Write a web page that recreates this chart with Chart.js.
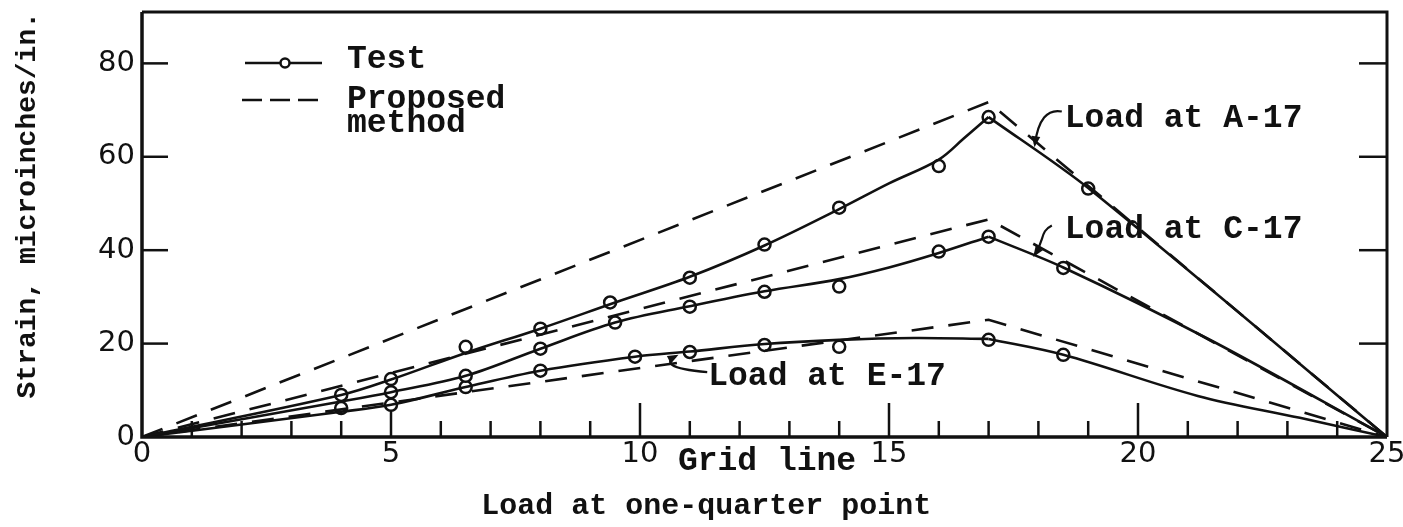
<!DOCTYPE html>
<html><head><meta charset="utf-8">
<style>html,body{margin:0;padding:0;background:#fff;overflow:hidden}#wrap{width:1403px;height:527px;position:relative}</style>
<script src="https://cdn.jsdelivr.net/npm/chart.js@4.4.1/dist/chart.umd.min.js"></script>
</head><body><div id="wrap"><canvas id="c" width="1403" height="527"></canvas></div>
<script>
// ---- data (x = grid line, y = strain, microinches/in.) ----
const xTickLabels = [0, 5, 10, 15, 20, 25];
const yTickLabels = [0, 20, 40, 60, 80];
const xMinorTicks = [1,2,3,4,5,6,7,8,9,10,11,12,13,14,15,16,17,18,19,20,21,22,23,24];

// test points (circles)
const testA = [[4,9.0],[5,12.4],[6.5,19.3],[8,23.2],[9.4,28.8],[11,34.1],[12.5,41.2],[14,49.1],[16,58.0],[17,68.5],[19,53.2]];
const testC = [[5,9.6],[6.5,13.1],[8,18.9],[9.5,24.5],[11,27.9],[12.5,31.1],[14,32.2],[16,39.7],[17,42.9],[18.5,36.2]];
const testE = [[4,6.2],[5,6.9],[6.5,10.7],[8,14.2],[9.9,17.2],[11,18.2],[12.5,19.7],[14,19.3],[17,20.8],[18.5,17.6]];

// faired test curves (solid)
const curveAUp   = [[0,0],[4,9.0],[5,12.3],[6.5,18.0],[8,23.2],[9.5,28.8],[11,34.3],[12.5,41.0],[14,48.8],[15,54.3],[16,59.4],[16.5,63.9],[17,68.5]];
const curveADown = [[17,68.5],[19,53.3],[25,0]];
const curveCUp   = [[0,0],[4,7.6],[5,9.6],[6.5,13.1],[8,18.9],[9.5,24.5],[11,28.0],[12.5,31.2],[14,33.8],[15,36.3],[16,39.4],[17,42.9]];
const curveCDown = [[17,42.9],[18.5,36.3],[21.5,20.5],[25,0]];
const curveEUp   = [[0,0],[4,5.4],[5,6.9],[6.5,10.7],[8,14.2],[9.9,17.2],[11,18.3],[12.5,19.9],[14,20.8],[15.5,21.2],[17,21.0]];
const curveEDown = [[17,21.0],[18.5,17.6],[21.2,8.8],[23.25,4.1],[25,0]];

// proposed method (dashed)
const propA = [[0,0],[17,71.7],[25,0]];
const propC = [[0,0],[17,46.6],[25,0]];
const propE = [[0,0],[17,25.1],[25,0]];

// annotation anchors (data units)
const labelA = {text: 'Load at A-17', at: [18.53, 66.3]};
const labelC = {text: 'Load at C-17', at: [18.53, 42.7]};
const labelE = {text: 'Load at E-17', at: [11.37, 11.2]};
const arrowA = [[18.47,69.7],[18.03,70.6],[17.93,62.7]];
const arrowC = [[18.27,45.3],[18.03,44.0],[18.13,42.3],[17.93,39.1]];
const arrowE = [[11.35,13.9],[10.54,14.6],[10.5,16.1],[10.72,17.3]];

const INK = '#111';
const MONO = '"Liberation Mono", "DejaVu Sans Mono", monospace';
const pts = a => a.map(p => ({x: p[0], y: p[1]}));

function solid(d, t) { return {data: pts(d), showLine: true, borderColor: INK, borderWidth: 2.6, pointRadius: 0, tension: t, fill: false}; }
function dashed(d) { return {data: pts(d), showLine: true, borderColor: INK, borderWidth: 2.6, borderDash: [22, 15], pointRadius: 0, tension: 0, fill: false}; }
function marks(d) { return {data: pts(d), showLine: false, pointRadius: 6, pointBorderWidth: 2.5, pointBorderColor: INK, pointBackgroundColor: '#fff', pointStyle: 'circle'}; }

const decor = {
  id: 'decor',
  beforeDatasetsDraw(chart) {
    const {ctx, chartArea: ca, scales: {x, y}} = chart;
    ctx.save();
    ctx.strokeStyle = INK; ctx.lineCap = 'butt';
    ctx.lineWidth = 2.5;
    xMinorTicks.forEach(v => {
      const px = x.getPixelForValue(v);
      const len = v % 5 === 0 ? 34 : 16;
      ctx.beginPath(); ctx.moveTo(px, ca.bottom); ctx.lineTo(px, ca.bottom - len); ctx.stroke();
    });
    yTickLabels.filter(v => v > 0).forEach(v => {
      const py = y.getPixelForValue(v);
      ctx.beginPath(); ctx.moveTo(ca.left, py); ctx.lineTo(ca.left + 26, py); ctx.stroke();
      ctx.beginPath(); ctx.moveTo(ca.right, py); ctx.lineTo(ca.right - 28, py); ctx.stroke();
    });
    ctx.restore();
  },
  afterDraw(chart) {
    const {ctx, chartArea: ca, scales: {x, y}} = chart;
    const P = p => [x.getPixelForValue(p[0]), y.getPixelForValue(p[1])];
    ctx.save();
    ctx.strokeStyle = INK; ctx.fillStyle = INK;
    // frame
    ctx.lineWidth = 3.5;
    ctx.beginPath(); ctx.moveTo(ca.left, ca.top); ctx.lineTo(ca.left, ca.bottom); ctx.lineTo(ca.right, ca.bottom); ctx.stroke();
    ctx.lineWidth = 3;
    ctx.beginPath(); ctx.moveTo(ca.left, ca.top); ctx.lineTo(ca.right, ca.top); ctx.lineTo(ca.right, ca.bottom); ctx.stroke();

    // legend
    ctx.lineWidth = 2.5;
    ctx.beginPath(); ctx.moveTo(245, 63); ctx.lineTo(322, 63); ctx.stroke();
    ctx.beginPath(); ctx.arc(285, 63, 4.5, 0, Math.PI * 2); ctx.fillStyle = '#fff'; ctx.fill(); ctx.stroke();
    ctx.fillStyle = INK;
    ctx.setLineDash([20, 8]);
    ctx.beginPath(); ctx.moveTo(242, 100); ctx.lineTo(322, 100); ctx.stroke();
    ctx.setLineDash([]);
    ctx.font = 'bold 33px ' + MONO;
    ctx.textAlign = 'left'; ctx.textBaseline = 'alphabetic';
    ctx.fillText('Test', 347, 68);
    ctx.fillText('Proposed', 347, 108);
    ctx.fillText('method', 347, 132);

    // curve labels
    [labelA, labelC, labelE].forEach(l => { const p = P(l.at); ctx.fillText(l.text, p[0], p[1]); });

    // arrows
    ctx.lineWidth = 2.2;
    function arrow(list) {
      const q = list.map(P);
      ctx.beginPath(); ctx.moveTo(q[0][0], q[0][1]);
      if (q.length === 3) ctx.quadraticCurveTo(q[1][0], q[1][1], q[2][0], q[2][1]);
      else ctx.bezierCurveTo(q[1][0], q[1][1], q[2][0], q[2][1], q[3][0], q[3][1]);
      ctx.stroke();
      const e = q[q.length - 1], b = q[q.length - 2];
      const ang = Math.atan2(e[1] - b[1], e[0] - b[0]);
      ctx.beginPath();
      ctx.moveTo(e[0] + 3 * Math.cos(ang), e[1] + 3 * Math.sin(ang));
      ctx.lineTo(e[0] - 9 * Math.cos(ang - 0.5), e[1] - 9 * Math.sin(ang - 0.5));
      ctx.lineTo(e[0] - 9 * Math.cos(ang + 0.5), e[1] - 9 * Math.sin(ang + 0.5));
      ctx.closePath(); ctx.fill();
    }
    arrow(arrowA); arrow(arrowC); arrow(arrowE);

    // axis captions
    ctx.font = 'bold 33px ' + MONO;
    ctx.textAlign = 'center'; ctx.textBaseline = 'middle';
    ctx.fillText('Grid line', x.getPixelForValue(12.55), ca.bottom + 25);
    ctx.font = 'bold 30px ' + MONO;
    ctx.fillText('Load at one-quarter point', x.getPixelForValue(11.33), ca.bottom + 69);
    ctx.restore();
  }
};

new Chart(document.getElementById('c'), {
  type: 'scatter',
  data: {
    datasets: [
      solid(curveAUp, 0.35), solid(curveADown, 0.3),
      solid(curveCUp, 0.35), solid(curveCDown, 0.3),
      solid(curveEUp, 0.35), solid(curveEDown, 0.35),
      dashed(propA), dashed(propC), dashed(propE),
      marks(testA), marks(testC), marks(testE)
    ]
  },
  options: {
    responsive: false, animation: false, devicePixelRatio: 1,
    layout: {padding: {top: 12, right: 16, left: 0, bottom: 0}},
    plugins: {legend: {display: false}, tooltip: {enabled: false}},
    scales: {
      x: {
        type: 'linear', min: 0, max: 25,
        afterFit: s => { s.height = 90; s.paddingLeft = 0; s.paddingRight = 0; },
        grid: {display: false, drawTicks: false}, border: {display: false},
        ticks: {
          stepSize: 5, autoSkip: false, padding: 3, color: INK,
          font: {family: '"DejaVu Sans", sans-serif', size: 29, lineHeight: 1},
          callback: v => xTickLabels.includes(v) ? String(v) : ''
        }
      },
      y: {
        type: 'linear', min: 0, max: 91,
        afterFit: s => { s.width = 142; s.paddingTop = 0; s.paddingBottom = 0; },
        grid: {display: false, drawTicks: false}, border: {display: false},
        ticks: {
          stepSize: 20, padding: 7, color: INK,
          font: {family: '"DejaVu Sans", sans-serif', size: 29},
          callback: v => yTickLabels.includes(v) ? String(v) : ''
        },
        title: {
          display: true, text: 'Strain, microinches/in.', align: 'end', color: INK,
          font: {family: MONO, size: 28, weight: 'bold'}, padding: {top: 11, bottom: 0}
        }
      }
    }
  },
  plugins: [decor]
});
</script></body></html>
